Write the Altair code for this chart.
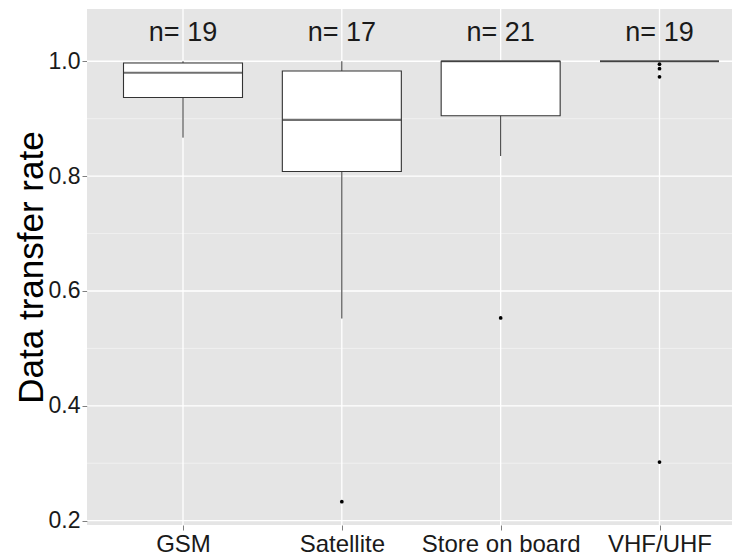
import altair as alt
import pandas as pd

categories = ["GSM", "Satellite", "Store on board", "VHF/UHF"]
n_obs = [19, 17, 21, 19]
whisker_low = [0.867, 0.552, 0.835, 1.0]
q1 = [0.937, 0.808, 0.905, 1.0]
median = [0.980, 0.898, 1.0, 1.0]
q3 = [0.997, 0.983, 1.0, 1.0]
whisker_high = [1.0, 1.0, 1.0, 1.0]
outlier_cat = ["Satellite", "Store on board", "VHF/UHF", "VHF/UHF", "VHF/UHF", "VHF/UHF"]
outlier_val = [0.233, 0.553, 0.995, 0.987, 0.973, 0.302]
major_breaks = [0.2, 0.4, 0.6, 0.8, 1.0]
minor_breaks = [0.3, 0.5, 0.7, 0.9]
label_pos = 1.05

stats = pd.DataFrame({
    "cat": categories,
    "lo": whisker_low,
    "q1": q1,
    "med": median,
    "q3": q3,
    "hi": whisker_high,
    "label": [f"n= {n}" for n in n_obs],
    "ly": [label_pos] * len(categories),
})
outliers = pd.DataFrame({"cat": outlier_cat, "v": outlier_val})
major_df = pd.DataFrame({"v": major_breaks})
minor_df = pd.DataFrame({"v": minor_breaks})

xscale = alt.Scale(type="point", domain=categories, range=[96, 572.5], padding=0)
yscale = alt.Scale(domain=[0.1925, 1.091], nice=False, zero=False)

xaxis = alt.Axis(title=None, labelFontSize=24, labelColor="#1A1A1A", tickColor="#7F7F7F",
                 tickSize=5, labelPadding=2, domain=False, grid=False, labelAngle=0)
yaxis = alt.Axis(title="Data transfer rate", values=major_breaks, format=".1f",
                 labelFontSize=23, labelColor="#1A1A1A", tickColor="#7F7F7F",
                 tickSize=5, labelPadding=2, domain=False, grid=False,
                 titleFontSize=35, titleFontWeight="normal", titleColor="#000000",
                 titleX=-45, titleY=258, titleBaseline="alphabetic", titleAlign="center")

def X():
    return alt.X("cat:N", sort=categories, scale=xscale, axis=xaxis)

def Y(field):
    return alt.Y(field, type="quantitative", scale=yscale, axis=yaxis)

minor = alt.Chart(minor_df).mark_rule(color="#F2F2F2", strokeWidth=0.8).encode(y=Y("v"))
major = alt.Chart(major_df).mark_rule(color="#FFFFFF", strokeWidth=1.3).encode(y=Y("v"))
vgrid = alt.Chart(stats).mark_rule(color="#FFFFFF", strokeWidth=1.3).encode(x=X())

whisk = alt.Chart(stats).mark_rule(color="#333333", strokeWidth=1).encode(
    x=X(), y=Y("lo"), y2="hi")
box = alt.Chart(stats).mark_bar(size=119, fill="#FFFFFF", stroke="#333333",
                                strokeWidth=1.1).encode(x=X(), y=Y("q1"), y2="q3")
med = alt.Chart(stats).mark_tick(color="#333333", thickness=2.2, size=119).encode(
    x=X(), y=Y("med"))
pts = alt.Chart(outliers).mark_circle(size=14, color="#000000", opacity=1).encode(
    x=X(), y=Y("v"))
txt = alt.Chart(stats).mark_text(fontSize=27, baseline="middle", color="#1A1A1A").encode(
    x=X(), y=Y("ly"), text="label:N")

chart = alt.layer(minor, major, vgrid, whisk, box, med, pts, txt).properties(
    width=645, height=516,
    autosize=alt.AutoSizeParams(type="none"),
    padding={"left": 79, "top": 1, "right": 0, "bottom": 30},
).configure(font="Liberation Sans").configure_view(fill="#E5E5E5", stroke=None)

chart.save("out.html", embed_options={"renderer": "svg", "actions": False})
